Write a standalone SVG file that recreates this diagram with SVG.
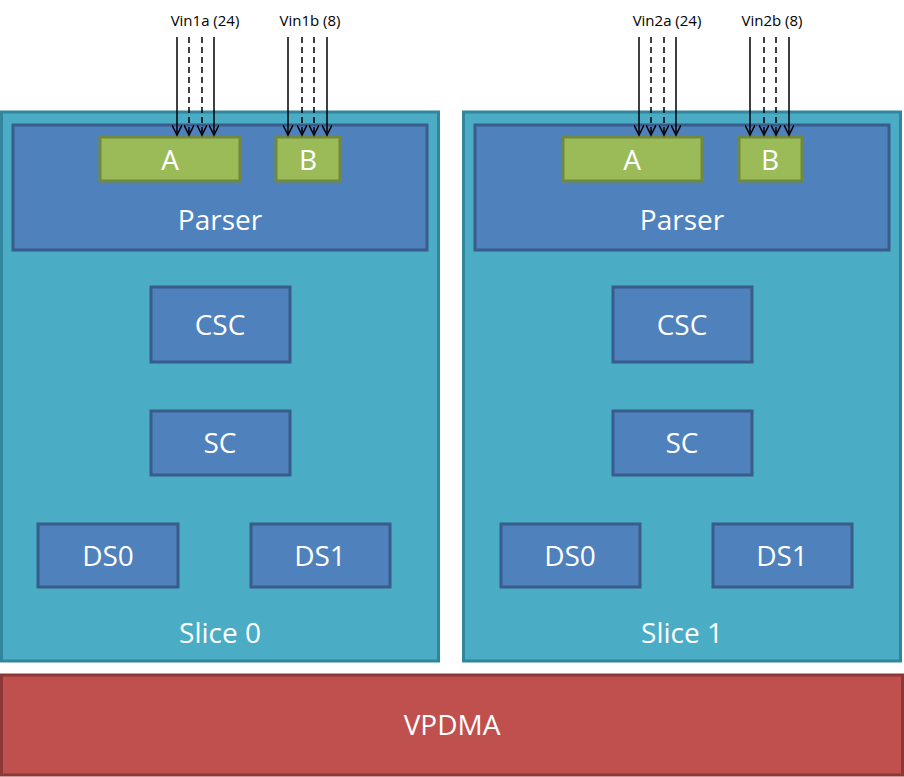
<svg xmlns="http://www.w3.org/2000/svg" width="904" height="777" viewBox="0 0 904 777">
<style>
.slice{fill:#4bacc6;stroke:#31859c;stroke-width:3}
.blue{fill:#4f81bd;stroke:#385d8a;stroke-width:3}
.green{fill:#9bbb59;stroke:#71893f;stroke-width:3}
.t{font-family:"Open Sans","Liberation Sans",sans-serif;fill:#fff;font-size:28px;text-anchor:middle}
.s{font-family:"Open Sans","Liberation Sans",sans-serif;fill:#000;font-size:15px;text-anchor:middle}
.a{stroke:#000;stroke-width:1.5;fill:none}
.d{stroke-dasharray:6,4}
</style>
<defs>
<marker id="m" markerWidth="12" markerHeight="10" refX="10" refY="5" orient="auto" markerUnits="userSpaceOnUse"><path d="M0,0 L10,5 L0,10" fill="none" stroke="#000" stroke-width="1.5"/></marker>
</defs>
<g id="vpdma"><rect x="1.5" y="675" width="901" height="100" fill="#c0504d" stroke="#8c3836" stroke-width="3"/><text class="t" x="452" y="735">VPDMA</text></g>
<g id="slice0">
<rect class="slice" x="1.5" y="112" width="437" height="549"/><text class="t" x="220" y="643">Slice 0</text>
<g id="parser0"><rect class="blue" x="13" y="125" width="414" height="125"/><text class="t" x="220" y="230">Parser</text></g>
<g id="a0"><rect class="green" x="100" y="137" width="140" height="44"/><text class="t" x="170" y="170">A</text></g>
<g id="b0"><rect class="green" x="276" y="137" width="64" height="44"/><text class="t" x="308" y="170">B</text></g>
<g id="csc0"><rect class="blue" x="151" y="287" width="139" height="75"/><text class="t" x="220" y="335">CSC</text></g>
<g id="sc0"><rect class="blue" x="151" y="411" width="139" height="64"/><text class="t" x="220" y="453">SC</text></g>
<g id="ds00"><rect class="blue" x="38" y="524" width="140" height="63"/><text class="t" x="108" y="566">DS0</text></g>
<g id="ds10"><rect class="blue" x="251" y="524" width="139" height="63"/><text class="t" x="320" y="566">DS1</text></g>
</g>
<g id="slice1">
<rect class="slice" x="463.5" y="112" width="437" height="549"/><text class="t" x="682" y="643">Slice 1</text>
<g id="parser1"><rect class="blue" x="475" y="125" width="414" height="125"/><text class="t" x="682" y="230">Parser</text></g>
<g id="a1"><rect class="green" x="563" y="137" width="139" height="44"/><text class="t" x="632" y="170">A</text></g>
<g id="b1"><rect class="green" x="739" y="137" width="63" height="44"/><text class="t" x="770" y="170">B</text></g>
<g id="csc1"><rect class="blue" x="613" y="287" width="139" height="75"/><text class="t" x="682" y="335">CSC</text></g>
<g id="sc1"><rect class="blue" x="613" y="411" width="139" height="64"/><text class="t" x="682" y="453">SC</text></g>
<g id="ds01"><rect class="blue" x="501" y="524" width="139" height="63"/><text class="t" x="570" y="566">DS0</text></g>
<g id="ds11"><rect class="blue" x="713" y="524" width="139" height="63"/><text class="t" x="782" y="566">DS1</text></g>
</g>
<g id="labels">
<text class="s" x="205" y="26">Vin1a (24)</text><text class="s" x="310" y="26">Vin1b (8)</text>
<text class="s" x="667" y="26">Vin2a (24)</text><text class="s" x="772" y="26">Vin2b (8)</text>
</g>
<g id="connectors">
<line class="a" x1="177" y1="37" x2="177" y2="135" marker-end="url(#m)"/>
<line class="a d" x1="189" y1="37" x2="189" y2="135" marker-end="url(#m)"/>
<line class="a d" x1="202" y1="37" x2="202" y2="135" marker-end="url(#m)"/>
<line class="a" x1="214" y1="37" x2="214" y2="135" marker-end="url(#m)"/>
<line class="a" x1="288" y1="37" x2="288" y2="135" marker-end="url(#m)"/>
<line class="a d" x1="302" y1="37" x2="302" y2="135" marker-end="url(#m)"/>
<line class="a d" x1="314" y1="37" x2="314" y2="135" marker-end="url(#m)"/>
<line class="a" x1="327" y1="37" x2="327" y2="135" marker-end="url(#m)"/>
<line class="a" x1="639" y1="37" x2="639" y2="135" marker-end="url(#m)"/>
<line class="a d" x1="651" y1="37" x2="651" y2="135" marker-end="url(#m)"/>
<line class="a d" x1="664" y1="37" x2="664" y2="135" marker-end="url(#m)"/>
<line class="a" x1="676" y1="37" x2="676" y2="135" marker-end="url(#m)"/>
<line class="a" x1="750" y1="37" x2="750" y2="135" marker-end="url(#m)"/>
<line class="a d" x1="764" y1="37" x2="764" y2="135" marker-end="url(#m)"/>
<line class="a d" x1="776" y1="37" x2="776" y2="135" marker-end="url(#m)"/>
<line class="a" x1="789" y1="37" x2="789" y2="135" marker-end="url(#m)"/>
</g>
</svg>
